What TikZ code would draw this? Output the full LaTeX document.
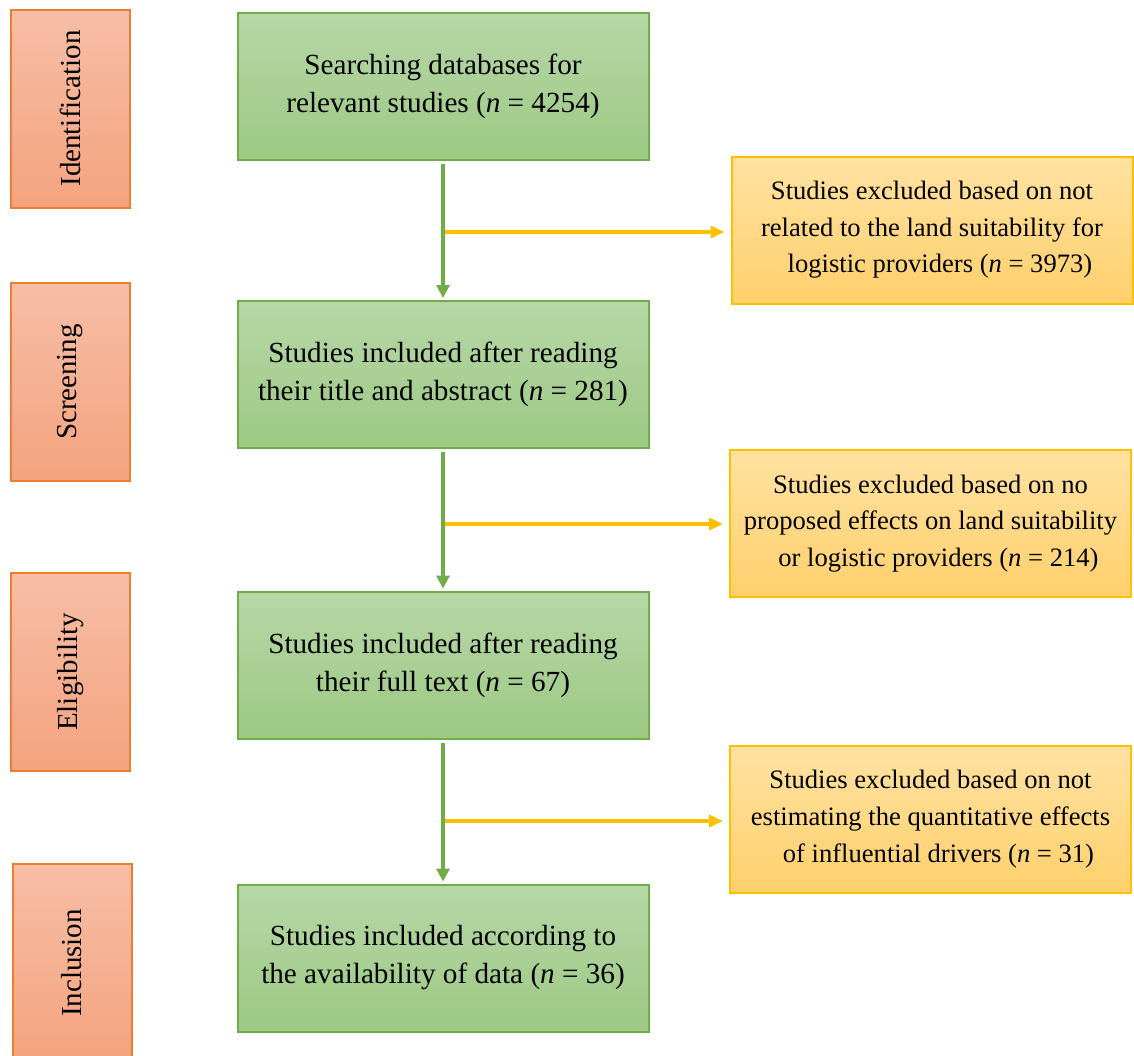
\documentclass[tikz,border=0pt]{standalone}
\usepackage{xcolor}
\usepackage{fontspec}
\setmainfont{Liberation Serif}
\usepackage{tikz}
\usetikzlibrary{arrows.meta}

\definecolor{gtop}{HTML}{B7D7A8}
\definecolor{gbot}{HTML}{9DC983}
\definecolor{gline}{HTML}{70AD47}
\definecolor{otop}{HTML}{F7BEA6}
\definecolor{obot}{HTML}{F4A37E}
\definecolor{oline}{HTML}{ED7D31}
\definecolor{ytop}{HTML}{FFE2A2}
\definecolor{ybot}{HTML}{FFD06C}
\definecolor{yline}{HTML}{FFC000}

\begin{document}
\begin{tikzpicture}[
      x=0.5pt, y=-0.5pt,
      stage/.style={
        draw=oline,
        line width=1pt,
        rotate=90,
        top color=otop,
        bottom color=obot,
        minimum width=99pt,
        minimum height=59.5pt,
        font=\fontsize{14.5}{17}\selectfont
      },
      studies/.style={
        draw=gline,
        line width=1pt,
        top color=gtop,
        bottom color=gbot,
        align=center,
        minimum width=205.5pt,
        minimum height=73.5pt,
        font=\fontsize{14.6}{19}\selectfont
      },
      excluded/.style={
        draw=yline,
        line width=1pt,
        top color=ytop,
        bottom color=ybot,
        align=center,
        minimum width=200.5pt,
        minimum height=73.5pt,
        font=\fontsize{13.3}{18.3}\selectfont
      },
      garrow/.style={
        -{Triangle[length=6.5pt,width=6.5pt]},
        line width=1.75pt,
        gline,
        shorten <=1.5pt,
        shorten >=1pt
      },
      yarrow/.style={
        -{Triangle[length=7pt,width=6pt]},
        line width=1.75pt,
        yline,
        shorten >=3pt
      }
      ]
        \useasboundingbox (0,0) rectangle (1134,1055);

        % phases
        \node[stage] (ident) at (70.5,108.5) {Identification};
        \node[stage] (screen) at (70.5,382) {Screening};
        \node[stage] (elig) at (70.5,672) {Eligibility};
        \node[stage] (incl) at (72,963) {Inclusion};

        % studies kept
        \node[studies] (search) at (443,86.5) {Searching databases for\\relevant studies (\textit{n} = 4254)};
        \node[studies] (title) at (443,374.5) {Studies included after reading\\their title and abstract (\textit{n} = 281)};
        \node[studies] (full) at (443,665) {Studies included after reading\\their full text (\textit{n} = 67)};
        \node[studies] (data) at (443,958) {Studies included according to\\the availability of data (\textit{n} = 36)};

        % studies excluded
        \node[excluded] (excl1) at (932,230) {Studies excluded based on not\\related to the land suitability for\\\hspace*{0.6em}logistic providers (\textit{n} = 3973)};
        \node[excluded] (excl2) at (930.5,523.5) {Studies excluded based on no\\proposed effects on land suitability\\\hspace*{0.6em}or logistic providers (\textit{n} = 214)};
        \node[excluded] (excl3) at (930.5,819) {Studies excluded based on not\\estimating the quantitative effects\\\hspace*{0.6em}of influential drivers (\textit{n} = 31)};

        \coordinate (b1) at (443,232);
        \coordinate (b2) at (443,524);
        \coordinate (b3) at (443,821);

        \draw[yarrow] (b1) -- (excl1.west |- b1);
        \draw[yarrow] (b2) -- (excl2.west |- b2);
        \draw[yarrow] (b3) -- (excl3.west |- b3);

        \draw[garrow] (search) -- (title);
        \draw[garrow] (title) -- (full);
        \draw[garrow] (full) -- (data);
    \end{tikzpicture}
\end{document}
